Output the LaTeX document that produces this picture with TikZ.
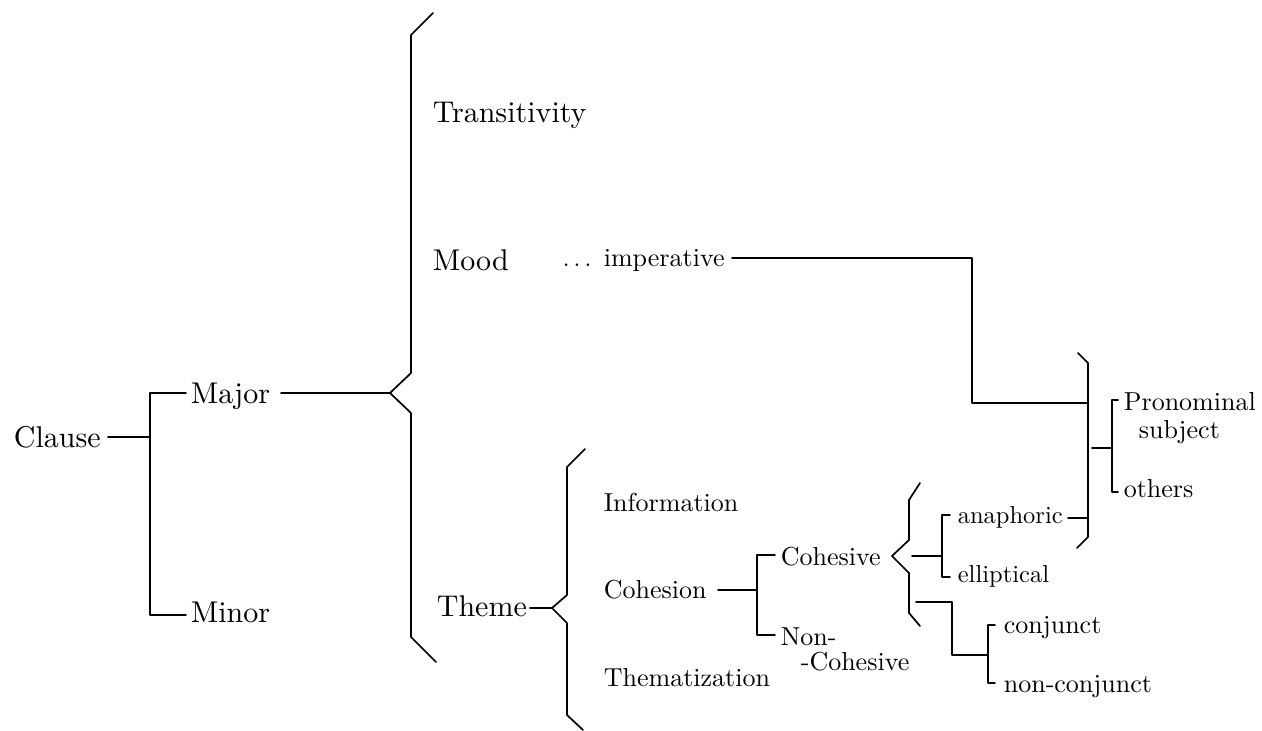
\documentclass[tikz,border=0pt]{standalone}
\usepackage{fontspec}
\setmainfont{lmroman10-regular}[Extension=.otf]
\begin{document}
\begin{tikzpicture}[x=1pt,y=-1pt, line width=1.7pt, line cap=round, line join=round,
 big/.style={font=\fontsize{30}{36}\selectfont, inner sep=0pt, anchor=base west},
 mid/.style={font=\fontsize{26}{31}\selectfont, inner sep=0pt, anchor=base west},
 sml/.style={font=\fontsize{24.5}{29}\selectfont, inner sep=0pt, anchor=base west}]
\useasboundingbox (0,0) rectangle (1262,731);
% texts
\node[big] (clause) at (13,447) {Clause};
\node[big] (major) at (190,403) {Major};
\node[big] (minor) at (190,622) {Minor};
\node[big] (trans) at (432,122) {Transitivity};
\node[big] (mood) at (432,270) {Mood};
\node[sml] (dots) at (562,266) {.\,.\,.};
\node[mid] (imper) at (603,266) {imperative};
\node[big] (theme) at (436,616) {Theme};
\node[mid] (info) at (603,511) {Information};
\node[mid] (cohesion) at (603,598) {Cohesion};
\node[mid] (themat) at (603,686) {Thematization};
\node[mid] (cohesive) at (780,565) {Cohesive};
\node[mid] (non) at (780,645) {Non-};
\node[mid] (noncoh) at (800,670) {-Cohesive};
\node[sml] (anaph) at (957,523) {anaphoric};
\node[sml] (ellip) at (957,582) {elliptical};
\node[mid] (pron) at (1123,410) {Pronominal};
\node[mid] (subj) at (1138,438) {subject};
\node[mid] (others) at (1123,497) {others};
\node[mid] (conj) at (1003,633) {conjunct};
\node[mid] (nonconj) at (1003,692) {non-conjunct};
% junction coordinates
\coordinate (c1) at (108,437);
\coordinate (c1j) at (150,437);
\coordinate (majL) at (186,393);
\coordinate (minL) at (186,615);
\coordinate (majR) at (281,393);
\coordinate (bigtip) at (390,393);
\coordinate (impR) at (732,258);
\coordinate (moodcorner) at (972,258);
\coordinate (moodlow) at (972,403);
\coordinate (closeV) at (1088,403);
\coordinate (themeR) at (530,608);
\coordinate (themetip) at (552,608);
\coordinate (cohR) at (718,590);
\coordinate (cohJ) at (757,590);
\coordinate (cvtip) at (892,556);
\coordinate (anR) at (1068,518);
% Clause bracket
\draw (c1) -- (c1j);
\draw (majL) -- (150,393) -- (150,615) -- (minL);
% Major to big brace
\draw (majR) -- (bigtip);
\draw (433,13) -- (411,35) -- (411,373) -- (bigtip) -- (411,413) -- (411,637) -- (436,662);
% Mood imperative connector
\draw (impR) -- (moodcorner) -- (moodlow) -- (closeV);
% closing brace
\draw (1078,353) -- (1088,363) -- (1088,537) -- (1077,548);
\draw (1092,448) -- (1112,448);
\draw (1118,400) -- (1112,400) -- (1112,492) -- (1118,492);
\draw (anR) -- (1088,518);
% Theme brace
\draw (themeR) -- (themetip);
\draw (585,449) -- (567,467) -- (567,595) -- (themetip) -- (567,623) -- (567,715) -- (583,730);
% Cohesion bracket
\draw (cohR) -- (cohJ);
\draw (775,555) -- (757,555) -- (757,635) -- (775,635);
% Cohesive brace
\draw (920,483) -- (909,500) -- (909,540) -- (cvtip) -- (909,573) -- (909,613) -- (920,626);
\draw (912,556) -- (942,556);
\draw (950,515) -- (942,515) -- (942,577) -- (950,577);
% conjunct connector
\draw (916,602) -- (952,602) -- (952,655) -- (988,655);
\draw (995,625) -- (988,625) -- (988,683) -- (995,683);
\end{tikzpicture}
\end{document}
